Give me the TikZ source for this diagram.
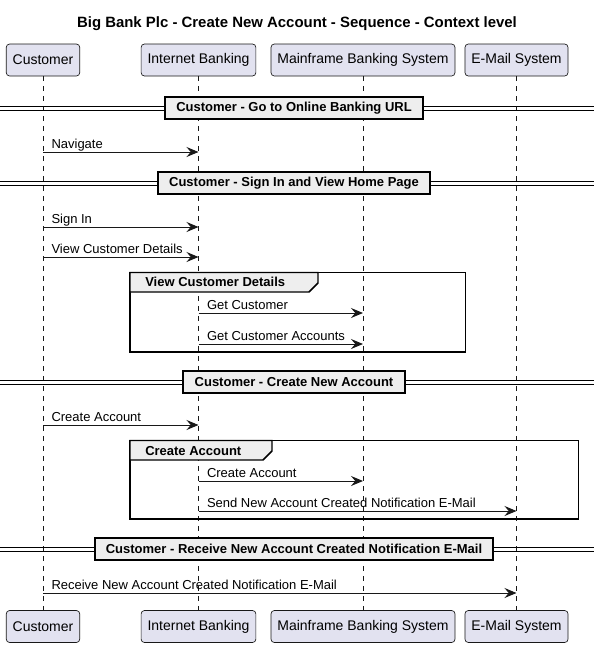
\documentclass[tikz,border=0pt]{standalone}
\usepackage{fontspec}
\setmainfont{Liberation Sans}
\usetikzlibrary{arrows.meta}
\definecolor{partfill}{HTML}{E2E2F0}
\definecolor{partline}{HTML}{181818}
\definecolor{divfill}{HTML}{EEEEEE}
\tikzset{
  participant/.style={draw=partline, fill=partfill, rounded corners=2.5pt, line width=0.5pt,
    minimum height=24pt, inner xsep=4.8pt, font=\fontsize{10.5}{12}\selectfont},
  lifeline/.style={draw=partline, line width=0.5pt, dash pattern=on 3.75pt off 3.75pt},
  msg/.style={draw=partline, line width=0.75pt, -{Stealth[length=9pt,width=7.5pt,inset=3.2pt]}},
  msglabel/.style={anchor=base west, inner sep=0pt, xshift=6pt, yshift=3pt,
    font=\fontsize{9.75}{11}\selectfont},
  divider/.style={draw=black, fill=divfill, line width=1.5pt, minimum height=16.5pt,
    inner xsep=8.4pt, font=\bfseries\fontsize{9.75}{11}\selectfont},
  groupbox/.style={draw=black, line width=1.1pt},
  grouplabel/.style={anchor=base west, inner sep=0pt, font=\bfseries\fontsize{9.75}{11}\selectfont},
}

\begin{document}
\begin{tikzpicture}[x=0.75pt, y=-0.75pt]
  \useasboundingbox (0,0) rectangle (594,647);
  \node[font=\bfseries\fontsize{11.2}{13}\selectfont] (title) at (297,24) {Big Bank Plc - Create New Account - Sequence - Context level}; % 标题
  % 参与者
  \node[participant] (cusT) at (43,60) {Customer};
  \node[participant] (ibT) at (198.5,60) {Internet Banking};
  \node[participant] (mfT) at (363,60) {Mainframe Banking System};
  \node[participant] (emT) at (516.5,60) {E-Mail System};
  \node[participant] (cusB) at (43,626.5) {Customer};
  \node[participant] (ibB) at (198.5,626.5) {Internet Banking};
  \node[participant] (mfB) at (363,626.5) {Mainframe Banking System};
  \node[participant] (emB) at (516.5,626.5) {E-Mail System};
  \foreach \p in {cus,ib,mf,em}
    \draw[lifeline] (\p T) -- (\p B); % 生命线
  % 分隔线
  \foreach \y/\t/\n in {108/{Customer - Go to Online Banking URL}/divA,
                        183/{Customer - Sign In and View Home Page}/divB,
                        382/{Customer - Create New Account}/divC,
                        549/{Customer - Receive New Account Created Notification E-Mail}/divD} {
    \draw[line width=0.75pt] (0,\y-1.5) -- (594,\y-1.5) (0,\y+2.5) -- (594,\y+2.5);
    \node[divider] (\n) at (294,\y) {\t};
  }
  % 分组框
  \draw[groupbox] (130,272.5) rectangle (465.5,352);
  \filldraw[groupbox, fill=divfill] (130,272.5) -- (318,272.5) -- (318,283) -- (309,292) -- (130,292) -- cycle;
  \node[grouplabel] (grpA) at (145,286.5) {View Customer Details};
  \draw[groupbox] (130,440.5) rectangle (578.5,519);
  \filldraw[groupbox, fill=divfill] (130,440.5) -- (272,440.5) -- (272,451) -- (263,460) -- (130,460) -- cycle;
  \node[grouplabel] (grpB) at (145,455) {Create Account};
  % 消息
  \draw[msg] (cusT |- 0,152) -- (ibT |- 0,152) node[at start, msglabel] {Navigate};
  \draw[msg] (cusT |- 0,227) -- (ibT |- 0,227) node[at start, msglabel] {Sign In};
  \draw[msg] (cusT |- 0,257) -- (ibT |- 0,257) node[at start, msglabel] {View Customer Details};
  \draw[msg] (ibT |- 0,313) -- (mfT |- 0,313) node[at start, msglabel] {Get Customer};
  \draw[msg] (ibT |- 0,344) -- (mfT |- 0,344) node[at start, msglabel] {Get Customer Accounts};
  \draw[msg] (cusT |- 0,425) -- (ibT |- 0,425) node[at start, msglabel] {Create Account};
  \draw[msg] (ibT |- 0,481) -- (mfT |- 0,481) node[at start, msglabel] {Create Account};
  \draw[msg] (ibT |- 0,511) -- (emT |- 0,511) node[at start, msglabel] {Send New Account Created Notification E-Mail};
  \draw[msg] (cusT |- 0,593) -- (emT |- 0,593) node[at start, msglabel] {Receive New Account Created Notification E-Mail};
\end{tikzpicture}
\end{document}
